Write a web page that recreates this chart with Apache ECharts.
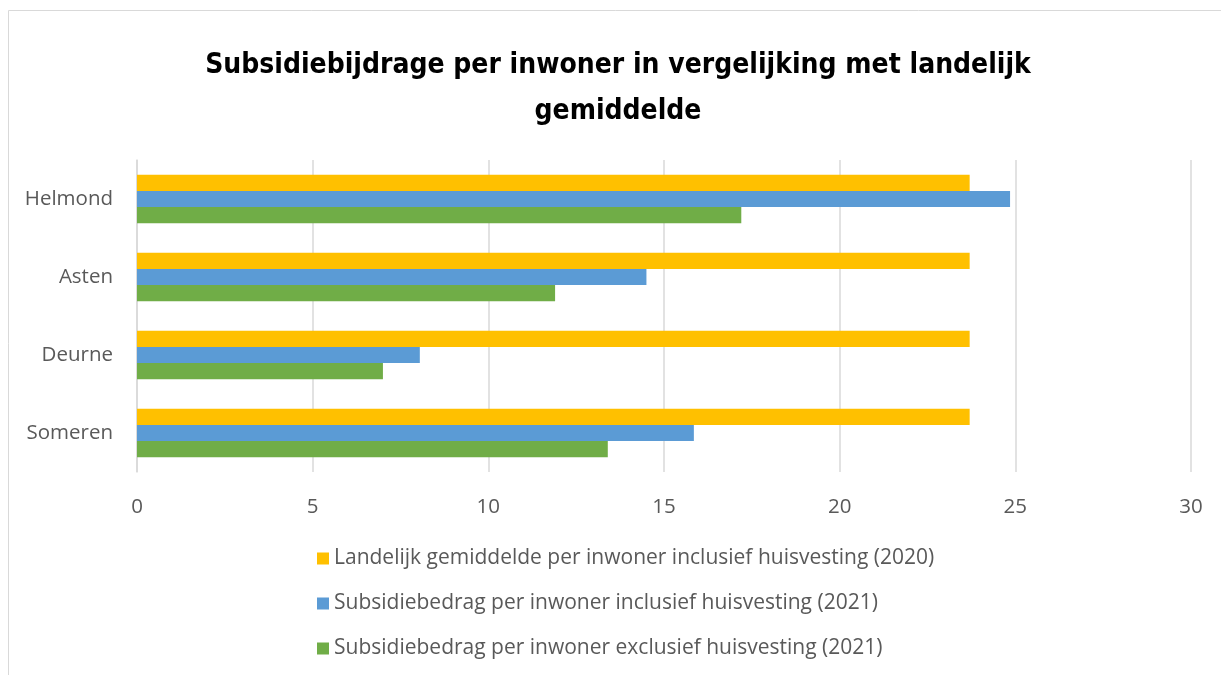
<!DOCTYPE html>
<html><head><meta charset="utf-8">
<script src="https://cdn.jsdelivr.net/npm/echarts@6/dist/echarts.min.js"></script>
<style>html,body{margin:0;padding:0;background:#fff}#c{width:1221px;height:675px}</style>
</head><body><div id="c"></div>
<script>
const categories = ['Helmond', 'Asten', 'Deurne', 'Someren'];
const seriesNames = [
  'Landelijk gemiddelde per inwoner inclusief huisvesting (2020)',
  'Subsidiebedrag per inwoner inclusief huisvesting (2021)',
  'Subsidiebedrag per inwoner exclusief huisvesting (2021)'
];
const landelijk = [23.7, 23.7, 23.7, 23.7];
const inclusief = [24.85, 14.5, 8.05, 15.85];
const exclusief = [17.2, 11.9, 7.0, 13.4];
const xTicks = [0, 5, 10, 15, 20, 25, 30];
const colors = ['#FFC000', '#5B9BD5', '#70AD47'];

const chart = echarts.init(document.getElementById('c'));
const lbl = {color:'#595959', fontFamily:'Open Sans', fontSize:20.5};
chart.setOption({
  animation:false,
  title:{text:'Subsidiebijdrage per inwoner in vergelijking met landelijk\ngemiddelde', left:613, top:38,
    textAlign:'center',
    textStyle:{fontFamily:'DejaVu Sans Condensed', fontWeight:'bold', fontSize:28, color:'#000', lineHeight:46}},
  graphic:[{type:'rect', shape:{x:8.5,y:10.5,width:1230,height:700}, style:{fill:'none', stroke:'#d9d9d9', lineWidth:1}}],
  grid:{left:137, right:30, top:160, bottom:203},
  legend:{orient:'vertical', left:312, top:543, itemGap:24, itemWidth:12, itemHeight:12, icon:'rect',
    textStyle:{color:'#595959', fontFamily:'Open Sans', fontSize:21}, data:seriesNames},
  xAxis:{type:'value', min:xTicks[0], max:xTicks[xTicks.length-1], interval:5,
    axisLine:{show:false}, axisTick:{show:false},
    splitLine:{lineStyle:{color:'#d9d9d9', width:1.5}},
    axisLabel:Object.assign({margin:25}, lbl)},
  yAxis:{type:'category', data:categories, inverse:true,
    axisLine:{show:true, lineStyle:{color:'#d9d9d9', width:1.5}}, axisTick:{show:false},
    axisLabel:Object.assign({margin:24}, lbl)},
  series:[landelijk, inclusief, exclusief].map((d,i)=>({
    type:'bar', name:seriesNames[i], data:d, itemStyle:{color:colors[i]},
    barGap:'0%', barCategoryGap:'38%'
  }))
});
</script></body></html>
